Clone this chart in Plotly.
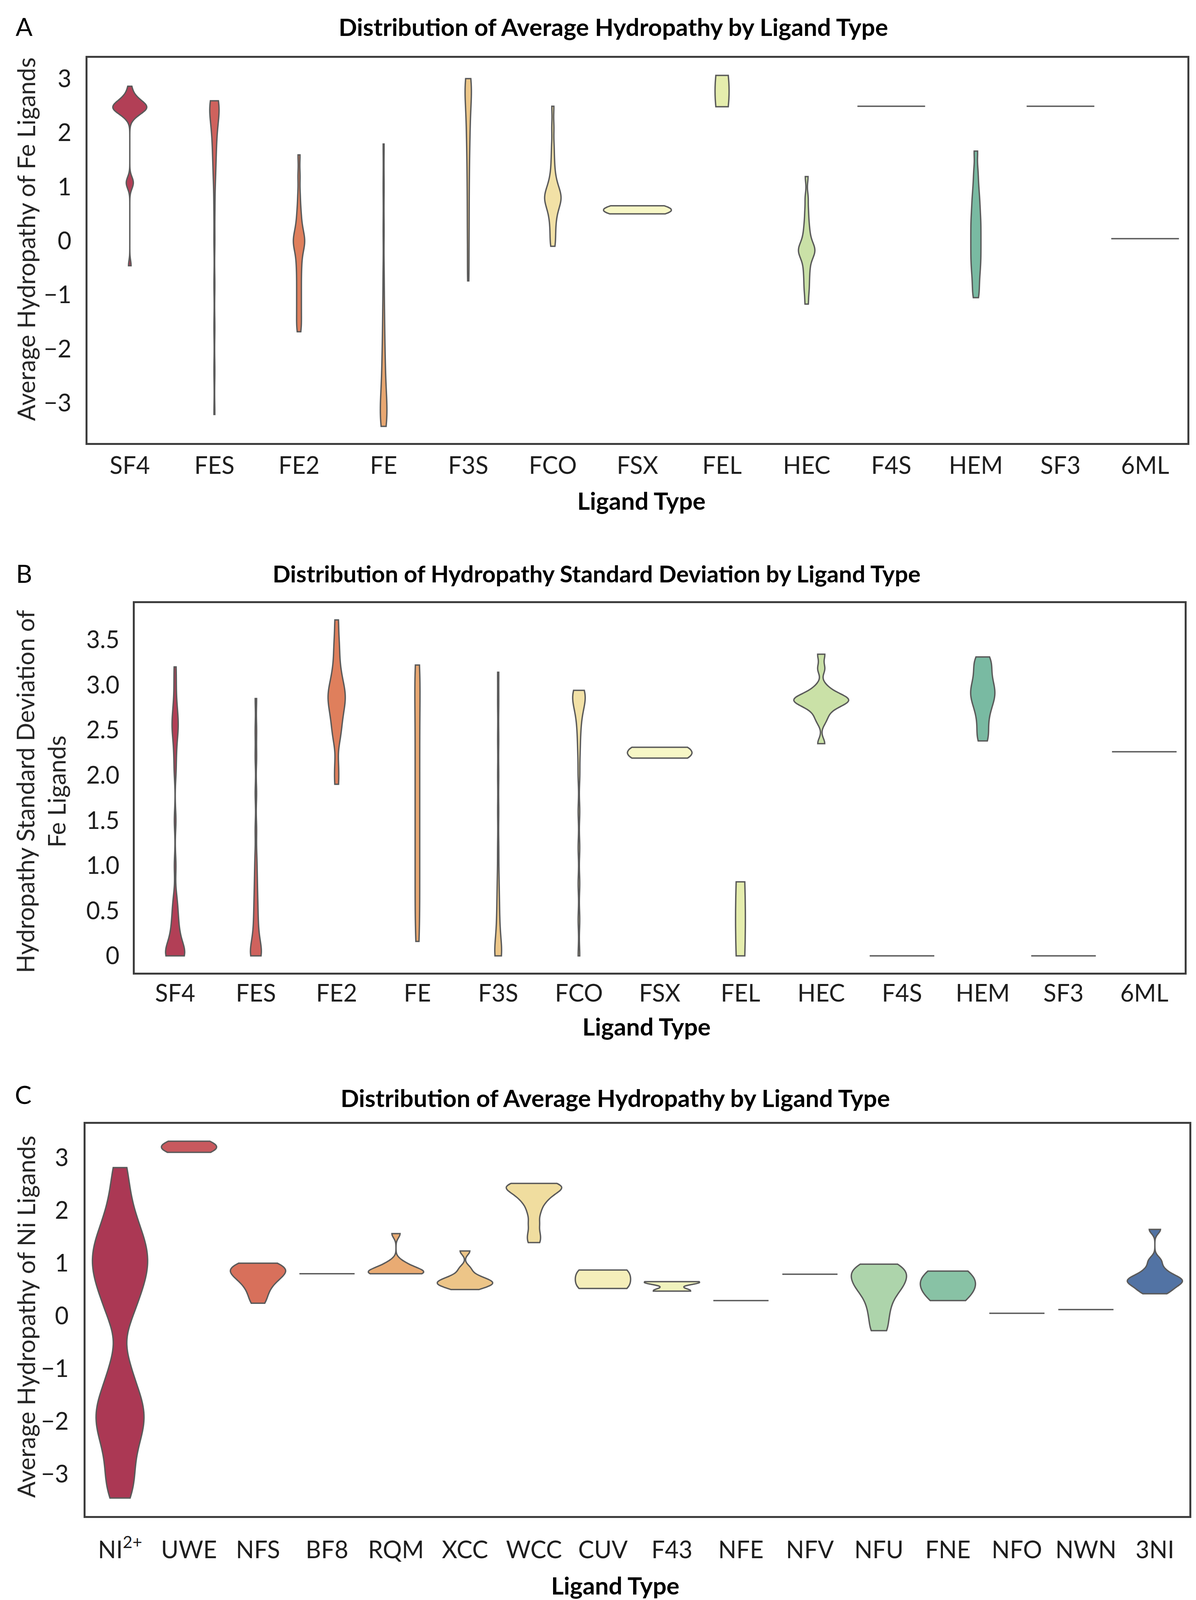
import colorsys
import plotly.graph_objects as go

# The browser viewport is 3062 x 4096, so the 3062 x 4680 layout is compressed vertically
W, H_REF, H = 3062, 4680, 4096

# ---------------- DATA ----------------
# Panel A: average hydropathy of Fe ligands
fe_types = ["SF4", "FES", "FE2", "FE", "F3S", "FCO", "FSX", "FEL", "HEC", "F4S", "HEM", "SF3", "6ML"]
fe_avg_values = [
    [2.28, 2.33, 2.37, 2.40, 2.42, 2.44, 2.45, 2.46, 2.46, 2.47, 2.48, 2.50, 2.51, 2.53, 2.55, 2.58,
     2.62, 2.66, 2.72, 2.86, 1.02, 1.08, 1.12, -0.46],
    [2.59, 2.58, 2.57, 2.55, 2.53, 2.50, 2.46, 2.42, 2.37, 2.31, 2.24, 2.16, 2.07, 1.97, 1.86, 1.74,
     1.60, 1.45, 1.28, 1.05, 0.60, 0.00, -0.80, -1.60, -2.40, -3.21],
    [1.59, 1.20, 0.85, 0.60, 0.45, 0.30, 0.20, 0.12, 0.05, 0.00, -0.03, -0.08, -0.15, -0.25, -0.38,
     -0.50, -0.65, -0.80, -0.95, -1.10, -1.25, -1.40, -1.55, -1.68],
    [1.79, 1.00, 0.20, -0.60, -1.10, -1.45, -1.75, -2.00, -2.20, -2.38, -2.55, -2.70, -2.82, -2.93,
     -3.03, -3.12, -3.20, -3.27, -3.33, -3.38, -3.43],
    [3.00, 2.98, 2.95, 2.90, 2.85, 2.78, 2.70, 2.60, 2.50, 2.38, 2.25, 2.10, 1.95, 1.80, 1.60, 1.40,
     1.15, 0.90, 0.60, 0.30, 0.00, -0.40, -0.74],
    [2.49, 2.10, 1.75, 1.50, 1.30, 1.15, 1.05, 0.98, 0.92, 0.87, 0.83, 0.80, 0.78, 0.75, 0.70, 0.65,
     0.58, 0.50, 0.40, 0.28, 0.15, 0.00, -0.10],
    [0.50, 0.53, 0.56, 0.58, 0.61, 0.65],
    [2.48, 3.06],
    [1.19, 0.80, 0.55, 0.35, 0.20, 0.08, -0.02, -0.10, -0.14, -0.17, -0.20, -0.24, -0.30, -0.40,
     -0.52, -0.65, -0.80, -0.95, -1.17],
    [2.49],
    [1.66, 1.30, 1.05, 0.85, 0.70, 0.55, 0.42, 0.30, 0.18, 0.06, -0.06, -0.18, -0.30, -0.42, -0.55,
     -0.70, -0.88, -1.05],
    [2.49],
    [0.04],
]

# Panel B: hydropathy standard deviation of Fe ligands
fe_std_values = [
    [0.0, 0.0, 0.0, 0.0, 0.0, 0.0, 0.0, 0.0, 0.03, 0.06, 0.10, 0.14, 0.18, 0.23, 0.28, 0.34, 0.40,
     0.48, 0.56, 0.65, 1.00, 1.50, 2.05, 2.25, 2.40, 2.50, 2.55, 2.60, 2.70, 2.80, 3.00, 3.20],
    [0.0, 0.0, 0.0, 0.0, 0.0, 0.05, 0.10, 0.15, 0.20, 0.28, 0.36, 0.45, 0.55, 0.65, 0.78, 0.92,
     1.10, 1.40, 1.80, 2.20, 2.50, 2.85],
    [3.72, 3.50, 3.35, 3.20, 3.10, 3.02, 2.96, 2.91, 2.87, 2.83, 2.78, 2.72, 2.65, 2.57, 2.48, 2.38,
     2.10, 1.90],
    [0.16, 0.40, 0.65, 0.90, 1.15, 1.40, 1.65, 1.90, 2.15, 2.40, 2.65, 2.90, 3.10, 3.22],
    [0.0, 0.0, 0.0, 0.0, 0.05, 0.12, 0.20, 0.30, 0.42, 0.55, 0.70, 0.90, 1.20, 1.60, 2.00, 2.40,
     2.80, 3.14],
    [2.94, 2.93, 2.92, 2.90, 2.88, 2.85, 2.82, 2.78, 2.72, 2.65, 2.55, 2.42, 2.25, 2.00, 1.60, 1.20,
     0.80, 0.40, 0.00],
    [2.19, 2.22, 2.25, 2.28, 2.31],
    [0.00, 0.82],
    [3.34, 3.18, 2.98, 2.92, 2.88, 2.86, 2.84, 2.84, 2.83, 2.82, 2.80, 2.78, 2.74, 2.68, 2.60, 2.35],
    [0.0],
    [3.31, 3.28, 3.22, 3.15, 3.08, 3.02, 2.97, 2.93, 2.89, 2.85, 2.80, 2.74, 2.66, 2.56, 2.45, 2.38],
    [0.0],
    [2.26],
]

# Panel C: average hydropathy of Ni ligands
ni_types = ["NI2+", "UWE", "NFS", "BF8", "RQM", "XCC", "WCC", "CUV", "F43", "NFE", "NFV", "NFU",
            "FNE", "NFO", "NWN", "3NI"]
ni_tick_labels = ["NI<sup>2+</sup>", "UWE", "NFS", "BF8", "RQM", "XCC", "WCC", "CUV", "F43", "NFE",
                  "NFV", "NFU", "FNE", "NFO", "NWN", "3NI"]
ni_avg_values = [
    [2.81, 2.35, 2.00, 1.75, 1.56, 1.40, 1.26, 1.13, 1.00, 0.87, 0.73, 0.58, 0.40, 0.18, -0.10,
     -0.85, -1.20, -1.45, -1.62, -1.78, -1.92, -2.06, -2.22, -2.40, -2.65, -2.95, -3.20, -3.45],
    [3.10, 3.15, 3.20, 3.25, 3.31],
    [1.00, 0.97, 0.93, 0.90, 0.86, 0.82, 0.78, 0.73, 0.67, 0.60, 0.50, 0.38, 0.24],
    [0.80],
    [0.80, 0.80, 0.80, 0.81, 0.83, 0.86, 0.90, 0.95, 1.02, 1.56],
    [0.50, 0.55, 0.58, 0.61, 0.63, 0.65, 0.68, 0.72, 0.78, 0.90, 1.23],
    [2.51, 2.50, 2.48, 2.45, 2.42, 2.38, 2.33, 2.27, 2.20, 2.10, 1.95, 1.75, 1.55, 1.39],
    [0.52, 0.56, 0.83, 0.87],
    [0.47, 0.48, 0.63, 0.64, 0.65],
    [0.29],
    [0.79],
    [0.98, 0.92, 0.85, 0.78, 0.70, 0.62, 0.55, 0.45, 0.32, 0.15, -0.05, -0.28],
    [0.29, 0.45, 0.60, 0.72, 0.85],
    [0.05],
    [0.12],
    [0.42, 0.48, 0.55, 0.60, 0.64, 0.67, 0.70, 0.74, 0.80, 0.90, 1.05, 1.64],
]

# ---------------- STYLE ----------------
fe_avg_widths = [0.40, 0.11, 0.134, 0.078, 0.074, 0.194, 0.8, 0.166, 0.194, 0.8, 0.12, 0.8, 0.8]
fe_avg_bw = [0.10, 0.25, 0.15, 0.30, 0.30, 0.15, 0.10, 0.45, 0.12, None, 0.15, None, None]
fe_std_widths = [0.237, 0.135, 0.213, 0.064, 0.084, 0.155, 0.8, 0.121, 0.677, 0.8, 0.30, 0.8, 0.8]
fe_std_bw = [0.12, 0.12, 0.12, 0.30, 0.15, 0.12, 0.10, 0.60, 0.06, None, 0.10, None, None]
ni_widths = [0.8] * 16
ni_bw = [0.35, 0.12, 0.12, None, 0.08, 0.07, 0.10, 0.17, 0.05, None, None, 0.15, 0.20, None, None, 0.08]

SPECTRAL = ["#9e0142", "#d53e4f", "#f46d43", "#fdae61", "#fee08b", "#ffffbf",
            "#e6f598", "#abdda4", "#66c2a5", "#3288bd", "#5e4fa2"]


def hex2rgb(h):
    return tuple(int(h[i:i + 2], 16) / 255 for i in (1, 3, 5))


def spectral(n, sat=0.75):
    anchors = [hex2rgb(c) for c in SPECTRAL]
    out = []
    for i in range(1, n + 1):
        t = i / (n + 1)
        t = min(int(t * 256), 255) / 255
        pos = t * 10
        k = min(int(pos), 9)
        f = pos - k
        rgb = [anchors[k][j] + f * (anchors[k + 1][j] - anchors[k][j]) for j in range(3)]
        hh, ll, ss = colorsys.rgb_to_hls(*rgb)
        r, g, b = colorsys.hls_to_rgb(hh, ll, ss * sat)
        out.append(f"rgb({round(r * 255)},{round(g * 255)},{round(b * 255)})")
    return out


FONT = "Lato"
EDGE = "#5a5a5a"
FRAME = "#3d3d3d"
TICK_SIZE = 61

# plot areas in reference pixels: (left, right, top, bottom)
boxes = [(216, 3032, 160, 1287), (337, 3025, 1755, 2836), (211, 3037, 3278, 4425)]

fig = go.Figure()


def add_panel(k, cats, values, widths, bws, colors):
    xa = "x" if k == 0 else f"x{k + 1}"
    ya = "y" if k == 0 else f"y{k + 1}"
    for cat, vals, w, bw, col in zip(cats, values, widths, bws, colors):
        kw = dict(
            x=[cat] * len(vals), y=vals, xaxis=xa, yaxis=ya,
            fillcolor=col, opacity=1,
            line=dict(color=EDGE, width=3.5),
            points=False, spanmode="hard", scalemode="width", width=w,
            box_visible=False, meanline_visible=False, showlegend=False,
            hoverinfo="skip",
        )
        if bw is not None:
            kw["bandwidth"] = bw
        fig.add_trace(go.Violin(**kw))


add_panel(0, fe_types, fe_avg_values, fe_avg_widths, fe_avg_bw, spectral(13))
add_panel(1, fe_types, fe_std_values, fe_std_widths, fe_std_bw, spectral(13))
add_panel(2, ni_types, ni_avg_values, ni_widths, ni_bw, spectral(16))


def xdom(b):
    return [b[0] / W, b[1] / W]


def ydom(b):
    return [1 - b[3] / H_REF, 1 - b[2] / H_REF]


axis_common = dict(showline=True, mirror=True, linecolor=FRAME, linewidth=5,
                   showgrid=False, zeroline=False, ticks="",
                   tickfont=dict(family=FONT, size=TICK_SIZE, color="#1e1e1e"))

y_ranges = [[-3.74, 3.385], [-0.186, 3.906], [-3.79, 3.64]]
y_tickvals = [[-3, -2, -1, 0, 1, 2, 3],
              [0, 0.5, 1.0, 1.5, 2.0, 2.5, 3.0, 3.5],
              [-3, -2, -1, 0, 1, 2, 3]]
y_ticktext = [None, ["0", "0.5", "1.0", "1.5", "2.0", "2.5", "3.0", "3.5"], None]
x_cats = [fe_types, fe_types, ni_types]
x_text = [fe_types, fe_types, ni_tick_labels]
x_standoff = [0, -4, 30]
y_standoff = [24, 22, 26]

layout = {}
for k in range(3):
    b = boxes[k]
    xn = "xaxis" if k == 0 else f"xaxis{k + 1}"
    yn = "yaxis" if k == 0 else f"yaxis{k + 1}"
    ya = "y" if k == 0 else f"y{k + 1}"
    xa = "x" if k == 0 else f"x{k + 1}"
    cats = x_cats[k]
    layout[xn] = dict(axis_common, domain=xdom(b), anchor=ya, type="category",
                      categoryorder="array", categoryarray=cats,
                      range=[-0.5, len(cats) - 0.5],
                      tickvals=cats, ticktext=x_text[k],
                      ticklabelstandoff=x_standoff[k])
    yd = dict(axis_common, domain=ydom(b), anchor=xa, range=y_ranges[k],
              tickvals=y_tickvals[k], ticklabelstandoff=y_standoff[k])
    if y_ticktext[k] is not None:
        yd["ticktext"] = y_ticktext[k]
    layout[yn] = yd

fig.update_layout(**layout)


def ann(text, x, y, size, angle=0, color="#000000"):
    fig.add_annotation(text=text, x=x / W, y=1 - y / H_REF, xref="paper", yref="paper",
                       showarrow=False, textangle=angle, xanchor="center", yanchor="middle",
                       font=dict(family=FONT, size=size, color=color))


titles = ["Distribution of Average Hydropathy by Ligand Type",
          "Distribution of Hydropathy Standard Deviation by Ligand Type",
          "Distribution of Average Hydropathy by Ligand Type"]
title_sizes = [62, 60, 62]
title_pos = [(1562, 68), (1519, 1668), (1567, 3202)]
letters = ["A", "B", "C"]
letter_pos = [(54, 68), (54, 1668), (51, 3192)]
xtitle_pos = [(1634, 1455), (1647, 2992), (1567, 4628)]
ytitles = ["Average Hydropathy of Fe Ligands",
           "Hydropathy Standard Deviation of<br>Fe Ligands",
           "Average Hydropathy of Ni Ligands"]
ytitle_pos = [(58, 691), (96, 2306), (58, 3842)]

for k in range(3):
    ann("<b>" + titles[k] + "</b>", *title_pos[k], title_sizes[k])
    ann(letters[k], *letter_pos[k], 64)
    ann("<b>Ligand Type</b>", *xtitle_pos[k], 62)
    ann(ytitles[k], *ytitle_pos[k], 62, angle=-90, color="#262626")

fig.update_layout(
    width=W, height=H, margin=dict(l=0, r=0, t=0, b=0),
    paper_bgcolor="white", plot_bgcolor="white",
    violinmode="overlay", template="none",
    font=dict(family=FONT),
)

fig.write_html("out.html")
